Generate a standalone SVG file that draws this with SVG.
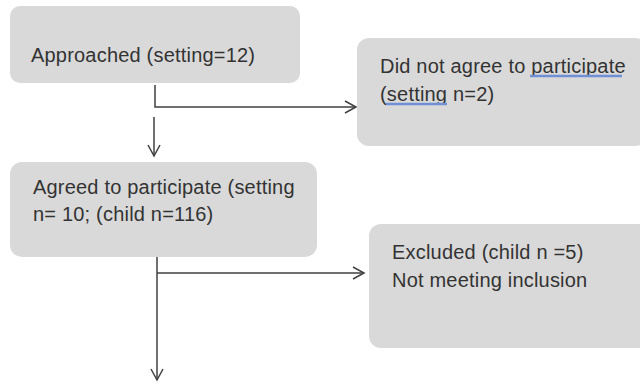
<svg xmlns="http://www.w3.org/2000/svg" width="640" height="387" viewBox="0 0 640 387">
<defs>
<style>
.box{fill:#d9d9d9;}
.t{font-family:"Liberation Sans",Arial,sans-serif;font-size:20px;fill:#333;letter-spacing:0.2px;}
.ln{fill:none;stroke:#404040;stroke-width:1.5;}
.sq{fill:none;stroke:#6f8fd6;stroke-width:2.5;}
</style>
<marker id="ah" markerWidth="14" markerHeight="14" refX="12" refY="7" orient="auto" markerUnits="userSpaceOnUse">
<path d="M1,1 L12,7 L1,13" fill="none" stroke="#404040" stroke-width="1.5"/>
</marker>
</defs>
<rect width="640" height="387" fill="#fff"/>
<g id="connectors">
<path class="ln" d="M155,85 V107 H356" marker-end="url(#ah)"/>
<path class="ln" d="M154,117 V156" marker-end="url(#ah)"/>
<path class="ln" d="M157,257 V380" marker-end="url(#ah)"/>
<path class="ln" d="M157,273 H364" marker-end="url(#ah)"/>
</g>
<g id="approached">
<rect class="box" x="10" y="6" width="290" height="77" rx="10"/>
<text class="t" x="31" y="62">Approached (setting=12)</text>
</g>
<g id="not-agree">
<rect class="box" x="357" y="38" width="290" height="108" rx="12"/>
<text class="t" x="380" y="73">Did not agree to participate</text>
<text class="t" x="380" y="101">(setting n=2)</text>
<path class="sq" d="M530,76 H622"/>
<path class="sq" d="M386,104 H447"/>
</g>
<g id="agreed">
<rect class="box" x="10" y="162" width="307" height="95" rx="12"/>
<text class="t" x="33" y="194">Agreed to participate (setting</text>
<text class="t" x="33" y="221">n= 10; (child n=116)</text>
</g>
<g id="excluded">
<rect class="box" x="369" y="224" width="290" height="124" rx="12"/>
<text class="t" x="392" y="259">Excluded (child n =5)</text>
<text class="t" x="392" y="287">Not meeting inclusion</text>
</g>
</svg>
